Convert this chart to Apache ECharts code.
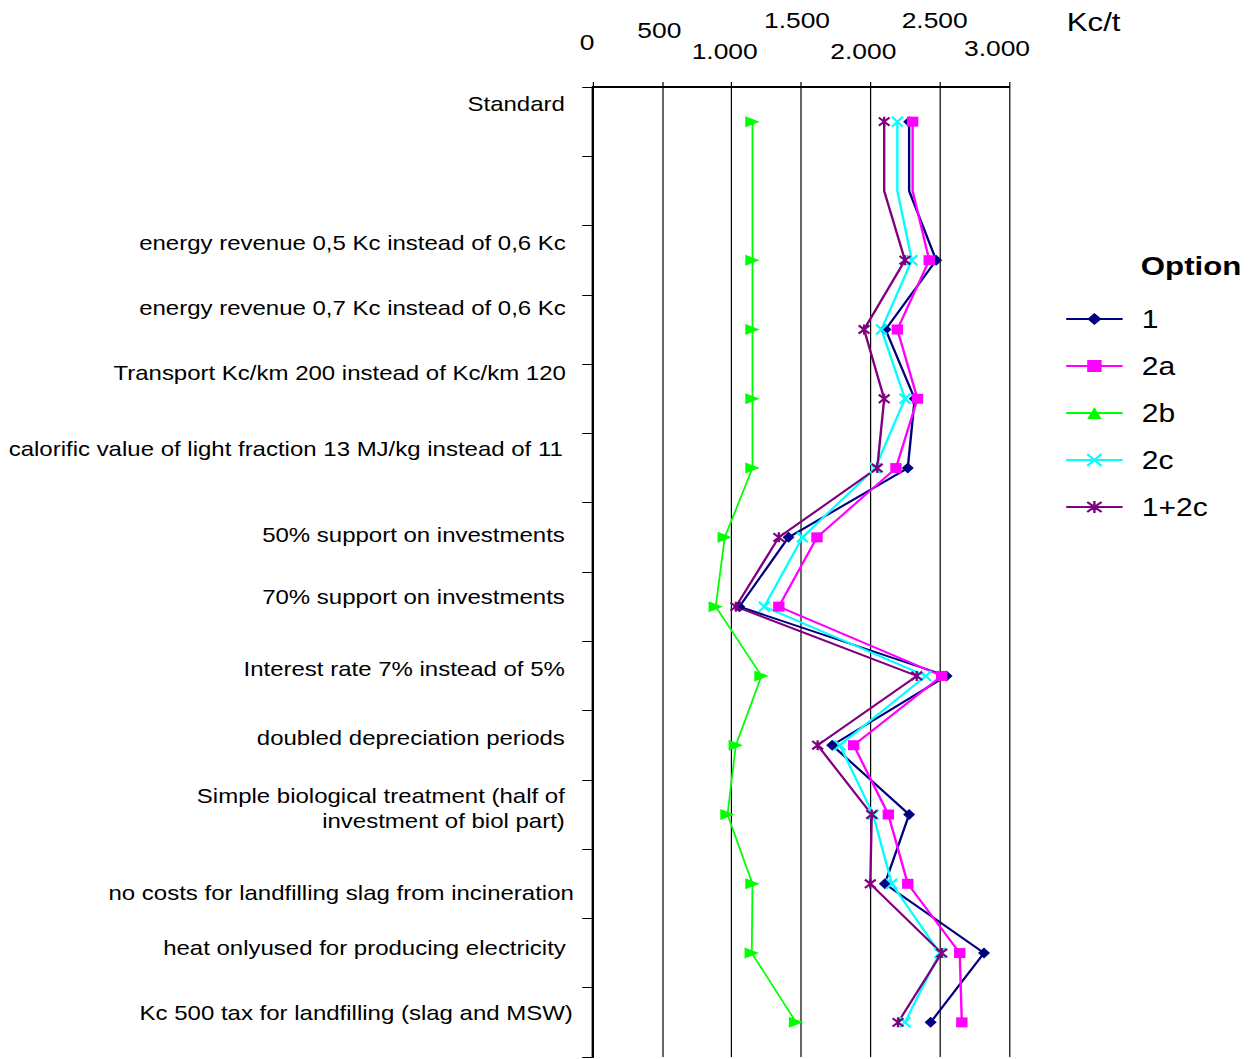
<!DOCTYPE html>
<html><head><meta charset="utf-8">
<script src="https://cdn.jsdelivr.net/npm/echarts@6/dist/echarts.min.js"></script>
<style>
html,body{margin:0;padding:0;overflow:hidden;background:#fff;width:1257px;height:1059px;}
#chart{width:1048px;height:1059px;transform:scaleX(1.2);transform-origin:0 0;}
</style></head><body><div id="chart"></div>
<script>
// ---------------- data ----------------
const categories = [
  'Standard',
  '',
  'energy revenue 0,5 Kc instead of 0,6 Kc',
  'energy revenue 0,7 Kc instead of 0,6 Kc',
  'Transport Kc/km 200 instead of Kc/km 120',
  'calorific value of light fraction 13 MJ/kg instead of 11',
  '50% support on investments',
  '70% support on investments',
  'Interest rate 7% instead of 5%',
  'doubled depreciation periods',
  'Simple biological treatment (half of\ninvestment of biol part)',
  'no costs for landfilling slag from incineration',
  'heat onlyused for producing electricity',
  'Kc 500 tax for landfilling (slag and MSW)'
];
const seriesNames = ['1', '2a', '2b', '2c', '1+2c'];
const opt1   = [2280, 2280, 2475, 2110, 2320, 2270, 1410, 1055, 2550, 1725, 2280, 2105, 2820, 2435];
const opt2a  = [2305, 2305, 2425, 2195, 2340, 2185, 1615, 1340, 2515, 1880, 2130, 2270, 2645, 2660];
const opt2b  = [1150, 1150, 1150, 1150, 1150, 1150, 950, 885, 1215, 1030, 970, 1150, 1145, 1465];
const opt2c  = [2195, 2195, 2300, 2080, 2250, 2035, 1510, 1235, 2400, 1780, 2020, 2155, 2500, 2250];
const opt12c = [2100, 2100, 2250, 1955, 2100, 2050, 1340, 1030, 2335, 1620, 2010, 2000, 2515, 2200];
const xTicks = [0, 500, 1000, 1500, 2000, 2500, 3000];
const unitLabel = 'Kc/t';
const legendTitle = 'Option';
const blankRow = 1; // row drawn without markers

// ---------------- styling ----------------
const SX = 1.2; // page is stretched horizontally
const catLabelUp = [17, 0, 17, 21, 26, 19, 2, 9, 7, 7, 6, -9, 5, 9];
const catLabelRightEdge = [565, 565, 566, 566, 566, 563, 565, 565, 565, 565, 565, 574, 566, 573];
const tickLabelUp = [9, 21, 0, 31, 0, 31, 3];
const tickLabelDx = [-6, -3, -7, -4, -7, -5, -12];

const FONT = '"Liberation Sans", Arial, sans-serif';
const fmt = v => v >= 1000 ? Math.floor(v / 1000) + '.' + String(v % 1000).padStart(3, '0') : String(v);

const rich = {};
xTicks.forEach((t, i) => {
  rich['t' + i] = {
    fontSize: 22, fontFamily: FONT, color: '#000',
    padding: [0, Math.max(0, -tickLabelDx[i] * 2 / SX), tickLabelUp[i], 0]
  };
});

// rich styles for category labels (vertical / horizontal nudges)
const catRich = {};
categories.forEach((c, i) => {
  const up = catLabelUp[i];
  const r = Math.max(0, (574 - catLabelRightEdge[i]) / SX);
  const base = { fontSize: 20, lineHeight: 25, fontFamily: FONT, color: '#000', align: 'right' };
  catRich['m' + i] = Object.assign({}, base, { padding: [0, r, 0, 0] });
  catRich['s' + i] = Object.assign({}, base, { padding: [up < 0 ? -2 * up : 0, r, up > 0 ? 2 * up : 0, 0] });
  catRich['p' + i] = { fontSize: 1, lineHeight: Math.max(1, 2 * Math.abs(up)), align: 'right' };
});
const catFormatter = (value, index) => {
  if (!value) return '';
  const lines = value.split('\n');
  if (lines.length === 1) return '{s' + index + '|' + value + '}';
  const up = catLabelUp[index];
  let out = lines.map(l => '{m' + index + '|' + l + '}').join('\n');
  if (up > 0) out = out + '\n{p' + index + '| }';
  else if (up < 0) out = '{p' + index + '| }\n' + out;
  return out;
};

const X_PATH = 'path://M0,0L10,10M10,0L0,10';
const STAR_PATH = 'path://M0,0L10,10M10,0L0,10M5,-1L5,11';

const defs = [
  { vals: opt1,   color: '#000080', symbol: 'diamond', size: [10, 11], width: 2 },
  { vals: opt2a,  color: '#FF00FF', symbol: 'rect', size: [9.5, 10], width: 2 },
  { vals: opt2b,  color: '#00FF00', symbol: 'triangle', size: [11, 12], width: 1.5, rotate: -90 },
  { vals: opt2c,  color: '#00FFFF', symbol: X_PATH, size: [9, 10], width: 2, stroke: true },
  { vals: opt12c, color: '#800080', symbol: STAR_PATH, size: [9, 10], width: 2, stroke: true }
];

const series = defs.map((d, k) => ({
  name: seriesNames[k],
  type: 'line',
  data: d.vals.map((v, i) => i === blankRow ? { value: v, symbol: 'none' } : v),
  symbol: d.symbol,
  symbolSize: d.size,
  symbolRotate: d.rotate || 0,
  showAllSymbol: true,
  animation: false,
  color: d.color,
  lineStyle: { color: d.color, width: d.width },
  itemStyle: d.stroke
    ? { color: d.color, borderColor: d.color, borderWidth: 2 }
    : { color: d.color, borderWidth: 0 },
  emphasis: { disabled: true }
}));

const chart = echarts.init(document.getElementById('chart'), null, { renderer: 'svg' });
chart.setOption({
  backgroundColor: '#fff',
  animation: false,
  textStyle: { fontFamily: FONT },
  title: [
    { text: unitLabel, left: 884, top: 4, textStyle: { fontSize: 26, fontWeight: 'normal', color: '#000', fontFamily: FONT } },
    { text: legendTitle, left: 945.7, top: 248, textStyle: { fontSize: 26, fontWeight: 'bold', color: '#000', fontFamily: FONT } }
  ],
  legend: {
    orient: 'vertical',
    left: 882.5,
    top: 301.5,
    itemWidth: 47,
    itemHeight: 15,
    itemGap: 22,
    symbolRotate: 0,
    data: seriesNames,
    textStyle: { fontSize: 25, lineHeight: 25, color: '#000', fontFamily: FONT, padding: [0, 0, 0, 11] }
  },
  grid: { left: 494.2, right: 207.2, top: 87, bottom: 2, containLabel: false },
  xAxis: {
    type: 'value',
    position: 'top',
    min: 0, max: 3000, interval: 500,
    axisLine: { show: true, lineStyle: { color: '#000', width: 2 } },
    axisTick: { show: true, length: 5, lineStyle: { color: '#000', width: 1 } },
    splitLine: { show: true, lineStyle: { color: '#000', width: 1 } },
    axisLabel: {
      margin: 25,
      formatter: v => '{t' + xTicks.indexOf(v) + '|' + fmt(v) + '}',
      rich: rich,
      showMinLabel: true, showMaxLabel: true,
      fontSize: 22, color: '#000', fontFamily: FONT
    }
  },
  yAxis: {
    type: 'category',
    inverse: true,
    data: categories,
    boundaryGap: true,
    axisLine: { show: true, onZero: false, lineStyle: { color: '#000', width: 2 } },
    axisTick: { show: true, length: 9, alignWithLabel: false, interval: 0, lineStyle: { color: '#000', width: 1 } },
    splitLine: { show: false },
    axisLabel: {
      interval: 0,
      margin: 16,
      fontSize: 20,
      lineHeight: 25,
      color: '#000',
      fontFamily: FONT,
      align: 'right',
      formatter: catFormatter,
      rich: catRich
    }
  },
  series: series
});
</script>
</body></html>
